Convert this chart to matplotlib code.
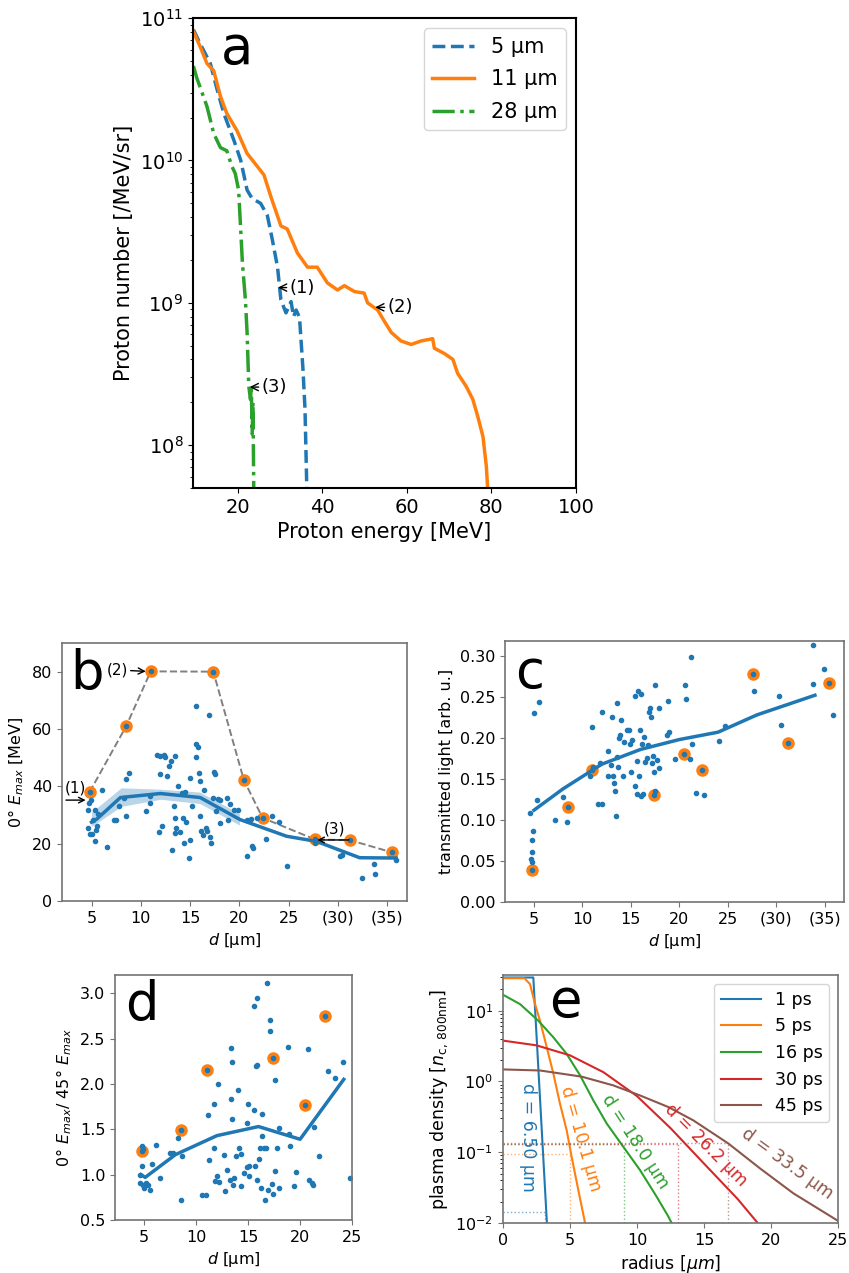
import matplotlib
matplotlib.use("Agg")
import matplotlib.pyplot as plt

# ---- panel a: proton spectra ----
e5 = [9.5, 11.1, 13.5, 15.1, 16.7, 19.1, 20.7, 22.2, 23.4, 25.4, 27.0, 28.2, 29.4, 30.2,
      31.4, 32.6, 33.2, 33.8, 34.6, 35.4, 35.9, 36.4]
n5 = [8.3e10, 6.6e10, 4.8e10, 3.16e10, 2.14e10, 1.38e10, 1.0e10, 6.2e9, 5.4e9, 5.0e9, 4.1e9,
      2.75e9, 1.78e9, 1.05e9, 8.5e8, 1.02e9, 8.0e8, 8.9e8, 7.9e8, 3.5e8, 1.8e8, 4e7]
e11 = [9.5, 11.1, 12.7, 14.3, 15.9, 17.4, 19.8, 22.2, 24.6, 26.2, 27.8, 30.2, 31.7, 34.1,
       36.5, 38.8, 41.2, 43.6, 45.2, 47.6, 49.9, 50.7, 53.1, 54.7, 56.3, 58.6, 61.0, 63.4,
       66.1, 66.5, 68.9, 70.9, 72.0, 74.0, 75.6, 76.8, 78.0, 78.8, 79.3]
n11 = [8.05e10, 6.3e10, 4.8e10, 4.27e10, 2.82e10, 2.14e10, 1.62e10, 1.12e10, 9.1e9, 7.9e9,
       5.6e9, 3.47e9, 3.3e9, 2.24e9, 1.78e9, 1.78e9, 1.38e9, 1.23e9, 1.32e9, 1.2e9, 1.17e9,
       1.0e9, 8.9e8, 7.4e8, 6.2e8, 5.4e8, 5.1e8, 5.4e8, 5.6e8, 4.8e8, 4.4e8, 4.0e8, 3.2e8,
       2.6e8, 2.1e8, 1.58e8, 1.15e8, 7.1e7, 4.0e7]
e28 = [9.5, 10.3, 12.7, 14.3, 15.9, 17.4, 18.6, 19.4, 20.2, 21.1, 21.8, 22.2, 22.6, 23.0,
       23.2, 23.4, 23.6, 23.8]
n28 = [4.6e10, 3.8e10, 2.4e10, 1.55e10, 1.23e10, 1.17e10, 9.1e9, 8.1e9, 6.2e9, 1.9e9,
       1.05e9, 6.2e8, 2.6e8, 2.1e8, 2.6e8, 1.2e8, 2.0e8, 4e7]

# ---- panels b, c, d: shot data ----
hl_d = [4.8, 8.5, 11.0, 17.35, 20.45, 22.35, 27.65, 31.25, 35.45]
hl_emax = [38.0, 60.9, 80.1, 80.0, 42.2, 29.0, 21.5, 21.2, 17.0]
hl_light = [0.039, 0.116, 0.161, 0.130, 0.180, 0.161, 0.278, 0.1935, 0.267]
hl_ratio = [1.257, 1.487, 2.156, 2.287, 1.768, 2.748]

b_d = [4.63, 4.73, 4.90, 4.63, 4.84, 5.07, 5.16, 5.40, 5.57, 5.31, 5.64, 6.08, 6.52, 5.50,
       7.26, 7.53, 7.77, 8.34, 8.53, 8.77, 8.53,
       10.53, 10.90, 10.97, 11.63, 11.97, 11.91, 12.31, 11.81, 12.15, 12.48,
       12.65, 12.82, 13.06, 13.16, 13.33, 13.43, 13.51, 13.61, 13.78, 13.95, 14.19, 14.29,
       14.37, 14.53, 14.63, 13.51,
       14.87, 14.97, 15.03, 15.21, 15.58, 15.64, 15.79, 15.55, 15.92, 15.98, 16.05, 16.15,
       16.29, 16.39,
       16.56, 16.72, 16.90, 17.0, 17.14, 17.27, 17.41, 17.57, 17.67, 17.81, 17.98, 18.01,
       18.75, 18.88, 19.02, 19.40, 19.81,
       20.73, 20.81, 21.14, 21.24, 21.41, 21.75, 22.65, 23.26, 24.04, 24.78,
       27.63, 30.16, 30.43, 32.42, 33.64, 33.77, 35.90]
b_emax = [31.9, 34.3, 35.2, 25.5, 23.5, 23.5, 28.2, 31.9, 26.1, 20.8, 30.5, 38.9, 18.8, 24.9,
          28.4, 28.4, 33.1, 36.0, 42.5, 44.8, 29.6,
          31.3, 34.3, 36.6, 50.9, 50.6, 44.2, 50.9, 24.0, 26.3, 50.1,
          43.6, 47.1, 48.9, 17.9, 33.1, 29.0, 50.6, 25.5, 40.1, 24.0, 37.8, 29.0,
          20.2, 38.0, 27.5, 23.7,
          15.0, 43.0, 21.4, 33.1, 68.0, 54.7, 53.6, 50.1, 44.8, 41.9, 29.6, 24.3,
          23.2, 38.9,
          25.5, 24.3, 64.9, 22.2, 20.2, 36.0, 45.0, 44.2, 31.3, 35.7, 27.3, 35.4,
          36.0, 28.4, 33.9, 31.9, 31.7,
          28.4, 15.6, 28.7, 19.1, 18.5, 29.0, 21.6, 29.8, 27.7, 12.3,
          20.2, 15.6, 16.1, 8.2, 13.0, 9.5, 14.4]
b_trend_d = [5.0, 5.57, 7.93, 11.98, 16.02, 20.07, 24.78, 27.82, 32.2, 35.9]
b_trend = [27.5, 28.7, 36.1, 37.5, 36.1, 28.4, 22.6, 20.8, 15.1, 15.0]
b_band_d = [5.0, 8.0, 12.0, 16.0, 20.0]
b_band_lo = [26.0, 33.0, 35.5, 34.0, 26.5]
b_band_hi = [31.0, 39.5, 39.0, 38.0, 30.5]

c_d = [4.59, 4.69, 4.76, 4.79, 4.83, 4.93, 5.04, 5.35, 5.48, 7.15, 7.97, 8.43, 10.98, 10.77,
       11.05, 11.6, 11.97, 11.8, 12.03, 12.6, 12.67, 12.91, 13.0, 13.11, 13.25, 13.35, 13.42,
       13.52, 13.59, 13.69, 13.8, 13.87, 13.97, 14.14, 14.28, 14.55, 14.83, 14.9, 15.0,
       15.07, 15.38, 15.45, 15.59, 15.66, 15.76, 15.86, 15.93, 16.0, 16.07, 16.14, 16.28,
       16.38, 16.48, 16.62, 16.79, 16.9, 16.97, 17.04, 17.17, 17.31, 17.38, 17.45, 17.52,
       17.66, 17.87, 17.93, 18.79, 18.76, 18.89, 19.55, 20.58, 20.68, 21.16, 21.09, 21.3,
       21.72, 22.54, 24.06, 24.71, 27.66, 30.24, 30.48, 33.75, 33.85, 34.98, 35.91]
c_light = [0.109, 0.053, 0.049, 0.075, 0.061, 0.087, 0.230, 0.124, 0.244, 0.100, 0.128,
           0.098, 0.213, 0.153, 0.165, 0.120, 0.119, 0.170, 0.232, 0.184, 0.153, 0.167,
           0.225, 0.153, 0.145, 0.135, 0.105, 0.242, 0.177, 0.165, 0.200, 0.203, 0.222,
           0.154, 0.195, 0.210, 0.210, 0.193, 0.159, 0.197, 0.251, 0.142, 0.172, 0.132,
           0.257, 0.153, 0.210, 0.129, 0.254, 0.192, 0.132, 0.201, 0.171, 0.176, 0.191,
           0.232, 0.236, 0.226, 0.169, 0.178, 0.158, 0.135, 0.265, 0.173, 0.237, 0.163,
           0.245, 0.204, 0.207, 0.174, 0.265, 0.248, 0.298, 0.174, 0.192, 0.133, 0.131,
           0.196, 0.214, 0.257, 0.251, 0.216, 0.266, 0.313, 0.284, 0.228]
c_trend_d = [5.0, 8.0, 12.0, 16.0, 20.0, 24.0, 28.0, 34.0]
c_trend = [0.112, 0.138, 0.168, 0.186, 0.198, 0.207, 0.228, 0.252]

d_d = [4.77, 4.87, 4.77, 4.61, 4.61, 4.87, 5.0, 5.19, 5.39, 5.52, 5.74, 6.48, 6.16, 7.51,
       7.77, 8.25, 8.54, 8.64, 10.57, 10.99, 11.12, 11.22, 11.76, 11.70, 11.96, 12.12,
       11.86, 12.18, 12.73, 12.67, 12.99, 13.25, 13.31, 13.37, 13.47, 13.47, 13.57, 13.63,
       13.79, 14.02, 14.11, 14.28, 14.34, 14.60, 14.86, 14.92, 14.98, 15.08, 15.08, 15.56,
       15.72, 15.82, 15.56, 15.63, 15.88, 15.88, 16.05, 16.14, 16.27, 16.37, 16.37, 16.53,
       16.63, 16.76, 16.85, 16.95, 17.11, 17.11, 17.34, 17.43, 17.56, 17.56, 17.75, 17.98,
       17.98, 18.85, 18.95, 19.04, 19.43, 19.65, 20.72, 20.81, 21.14, 21.26, 21.36, 21.84,
       22.65, 23.39, 24.10, 24.84]
d_ratio = [1.32, 1.28, 1.10, 1.0, 0.91, 0.89, 0.85, 0.91, 0.89, 0.83, 1.12, 0.96, 1.33, 1.24,
           1.24, 1.40, 0.72, 1.21, 0.78, 0.78, 1.66, 1.16, 1.78, 1.29, 0.99, 2.0,
           0.93, 0.92, 0.82, 1.22, 1.05, 0.94, 2.40, 1.83, 2.24, 1.61, 0.89, 0.96,
           1.21, 1.93, 1.29, 0.88, 1.23, 1.02, 1.57, 1.08, 1.78, 1.10, 0.99, 2.86,
           2.20, 2.21, 1.71, 1.10, 2.95, 0.94, 1.17, 1.29, 0.85, 1.67, 1.43, 1.29,
           0.72, 1.29, 3.11, 0.83, 2.58, 2.70, 0.90, 0.79, 2.04, 1.04, 1.29, 0.85,
           1.51, 2.41, 1.45, 1.32, 0.87, 1.03, 2.38, 0.94, 0.91, 0.89, 1.52, 1.21,
           2.14, 2.06, 2.24, 0.96]
d_trend_d = [4.7, 5.1, 8.0, 12.0, 16.0, 20.0, 24.2]
d_trend = [1.0, 0.97, 1.22, 1.43, 1.53, 1.39, 2.05]

# ---- panel e: plasma density profiles ----
prof_labels = ["1 ps", "5 ps", "16 ps", "30 ps", "45 ps"]
prof_r = [
    [0, 2.26, 3.28],
    [0, 1.6, 2.01, 2.39, 2.76, 3.26, 3.76, 4.25, 4.75, 5.12, 5.62, 6.12, 6.2],
    [0, 1.27, 2.64, 3.76, 4.75, 5.75, 6.74, 7.74, 8.98, 10.22, 11.47, 12.34, 12.7],
    [0, 2.5, 5.0, 7.5, 10.0, 12.5, 15.0, 17.5, 19.1],
    [0, 2.76, 5.87, 8.23, 10.22, 12.34, 14.2, 16.81, 19.18, 21.66, 25.0],
]
prof_n = [
    [29.5, 29.5, 0.0095],
    [28.8, 28.8, 23.8, 12.4, 7.2, 3.06, 1.28, 0.485, 0.204, 0.086, 0.029, 0.010, 0.009],
    [16.8, 12.4, 7.2, 4.2, 2.45, 1.22, 0.54, 0.254, 0.119, 0.056, 0.0234, 0.0123, 0.009],
    [3.78, 3.24, 2.34, 1.35, 0.62, 0.219, 0.069, 0.0219, 0.0095],
    [1.48, 1.43, 1.17, 0.88, 0.635, 0.435, 0.282, 0.133, 0.059, 0.0263, 0.0107],
]
thresh_r = [3.1, 5.0, 9.03, 13.08, 16.81]
thresh_n = [0.0144, 0.093, 0.129, 0.131, 0.136]
d_labels = ["d = 6.50 µm", "d = 10.1 µm", "d = 18.0 µm", "d = 26.2 µm", "d = 33.5 µm"]
d_label_pos = [(1.9, 0.16), (5.8, 0.156), (9.85, 0.14), (15.1, 0.125), (21.2, 0.068)]
d_label_rot = [-90, -74, -57, -45, -36]
prof_colors = ["C0", "C1", "C2", "C3", "C5"]

fig = plt.figure(figsize=(8.49, 12.73), dpi=100)

# ================= a =================
ax = fig.add_axes([0.2273, 0.6166, 0.4511, 0.3692])
ax.plot(e5, n5, "--", color="C0", lw=2.5, label="5 µm")
ax.plot(e11, n11, "-", color="C1", lw=2.5, label="11 µm")
ax.plot(e28, n28, "-.", color="C2", lw=2.5, label="28 µm")
ax.set_yscale("log")
ax.set_xlim(9.4, 100)
ax.set_ylim(5e7, 1e11)
ax.set_xticks([20, 40, 60, 80, 100])
ax.tick_params(labelsize=14)
for s in ax.spines.values():
    s.set_linewidth(1.5)
ax.set_xlabel("Proton energy [MeV]", fontsize=15)
ax.set_ylabel("Proton number [/MeV/sr]", fontsize=15)
ax.legend(loc="upper right", fontsize=15, labelspacing=0.6)
ax.text(0.115, 0.935, "a", transform=ax.transAxes, fontsize=38, ha="center", va="center")
arr = dict(arrowstyle="->", color="k", lw=1, shrinkA=0, shrinkB=0)
ax.annotate("(1)", xy=(29.5, 1.28e9), xytext=(32.2, 1.28e9), ha="left", va="center",
            fontsize=13, arrowprops=arr)
ax.annotate("(2)", xy=(52.5, 9.3e8), xytext=(55.4, 9.3e8), ha="left", va="center",
            fontsize=13, arrowprops=arr)
ax.annotate("(3)", xy=(22.8, 2.56e8), xytext=(25.6, 2.56e8), ha="left", va="center",
            fontsize=13, arrowprops=arr)


def style(ax):
    for s in ax.spines.values():
        s.set_color("0.45")
        s.set_linewidth(1.2)
    ax.tick_params(color="0.45", labelsize=11.5)


# ================= b =================
ax = fig.add_axes([0.0730, 0.2922, 0.4064, 0.2027])
ax.fill_between(b_band_d, b_band_lo, b_band_hi, color="C0", alpha=0.3, lw=0)
ax.plot(hl_d, hl_emax, "--", color="gray", lw=1.4)
ax.plot(hl_d, hl_emax, "o", color="C1", ms=8)
ax.plot(b_d + hl_d, b_emax + hl_emax, "o", color="C0", ms=3)
ax.plot(b_trend_d, b_trend, "-", color="C0", lw=2.5)
ax.set_xlim(2.0, 37.0)
ax.set_ylim(0, 90)
ax.set_xticks([5, 10, 15, 20, 25, 30, 35])
ax.set_xticklabels(["5", "10", "15", "20", "25", "(30)", "(35)"])
ax.set_yticks([0, 20, 40, 60, 80])
style(ax)
ax.set_xlabel(r"$d$ [µm]", fontsize=11.5)
ax.set_ylabel(r"0° $E_{max}$ [MeV]", fontsize=11.5)
ax.text(0.025, 0.88, "b", transform=ax.transAxes, fontsize=38, ha="left", va="center")
arr2 = dict(arrowstyle="->", color="k", lw=1, shrinkA=0, shrinkB=0)
ax.annotate("", xy=(4.4, 35.2), xytext=(2.4, 35.2), arrowprops=arr2)
ax.text(3.4, 39.5, "(1)", fontsize=11, ha="center", va="center")
ax.annotate("(2)", xy=(10.5, 80.1), xytext=(7.6, 80.6), ha="center", va="center",
            fontsize=11, arrowprops=arr2)
ax.annotate("", xy=(27.9, 21.3), xytext=(31.1, 21.3), arrowprops=arr2)
ax.text(29.6, 25.0, "(3)", fontsize=11, ha="center", va="center")

# ================= c =================
ax = fig.add_axes([0.5948, 0.2914, 0.3993, 0.2050])
ax.plot(hl_d, hl_light, "o", color="C1", ms=8)
ax.plot(c_d + hl_d, c_light + hl_light, "o", color="C0", ms=3)
ax.plot(c_trend_d, c_trend, "-", color="C0", lw=2.5)
ax.set_xlim(2.0, 37.0)
ax.set_ylim(0, 0.318)
ax.set_xticks([5, 10, 15, 20, 25, 30, 35])
ax.set_xticklabels(["5", "10", "15", "20", "25", "(30)", "(35)"])
ax.set_yticks([0, 0.05, 0.10, 0.15, 0.20, 0.25, 0.30])
ax.set_yticklabels(["0.00", "0.05", "0.10", "0.15", "0.20", "0.25", "0.30"])
style(ax)
ax.set_xlabel(r"$d$ [µm]", fontsize=11.5)
ax.set_ylabel("transmitted light [arb. u.]", fontsize=11.5)
ax.text(0.074, 0.877, "c", transform=ax.transAxes, fontsize=38, ha="center", va="center")

# ================= d =================
ax = fig.add_axes([0.1355, 0.0416, 0.2792, 0.1925])
ax.plot(hl_d[:6], hl_ratio, "o", color="C1", ms=8)
ax.plot(d_d + hl_d[:6], d_ratio + hl_ratio, "o", color="C0", ms=3)
ax.plot(d_trend_d, d_trend, "-", color="C0", lw=2.5)
ax.set_xlim(2.2, 25)
ax.set_ylim(0.5, 3.2)
ax.set_xticks([5, 10, 15, 20, 25])
ax.set_yticks([0.5, 1.0, 1.5, 2.0, 2.5, 3.0])
style(ax)
ax.set_xlabel(r"$d$ [µm]", fontsize=11.5)
ax.set_ylabel(r"0° $E_{max}$/ 45° $E_{max}$", fontsize=11.5)
ax.text(0.114, 0.878, "d", transform=ax.transAxes, fontsize=38, ha="center", va="center")

# ================= e =================
ax = fig.add_axes([0.5925, 0.0393, 0.3946, 0.1948])
for r, n, lab, col in zip(prof_r, prof_n, prof_labels, prof_colors):
    ax.plot(r, n, "-", color=col, lw=1.5, label=lab)
for tr, tn, col in zip(thresh_r, thresh_n, prof_colors):
    ax.plot([0, tr], [tn, tn], ":", color=col, lw=1, alpha=0.6)
    ax.plot([tr, tr], [0.01, tn], ":", color=col, lw=1, alpha=0.6)
for lab, (px, py), rot, col in zip(d_labels, d_label_pos, d_label_rot, prof_colors):
    ax.text(px, py, lab, color=col, rotation=rot, rotation_mode="anchor",
            ha="center", va="center", fontsize=12.5)
ax.set_yscale("log")
ax.set_xlim(0, 25)
ax.set_ylim(0.01, 32)
ax.set_xticks([0, 5, 10, 15, 20, 25])
style(ax)
ax.set_xlabel(r"radius [$\mu m$]", fontsize=12.5)
ax.set_ylabel(r"plasma density [$n_{\mathrm{c,\,800nm}}$]", fontsize=12.5)
ax.legend(loc="upper right", fontsize=12.5, handlelength=2.3)
ax.text(0.185, 0.89, "e", transform=ax.transAxes, fontsize=38, ha="center", va="center")

fig.savefig("out.png", dpi=100)
